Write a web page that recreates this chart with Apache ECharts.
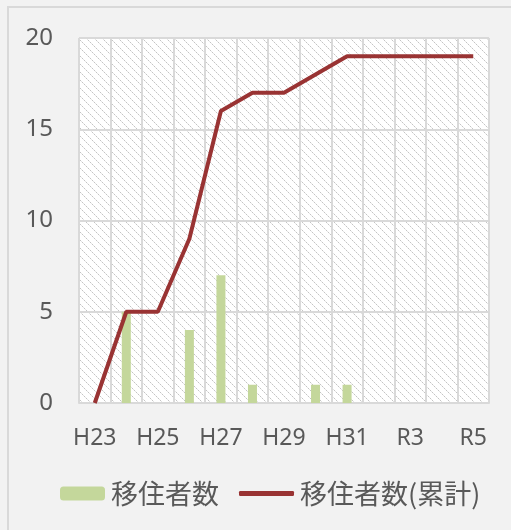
<!DOCTYPE html>
<html>
<head>
<meta charset="utf-8">
<script src="https://cdn.jsdelivr.net/npm/echarts@6/dist/echarts.min.js"></script>
<style>
  html, body { margin: 0; padding: 0; background: #f2f2f2; }
  #chart { width: 511px; height: 530px; }
</style>
</head>
<body>
<div id="chart"></div>
<script>
// 年度
const years = ['H23', 'H24', 'H25', 'H26', 'H27', 'H28', 'H29', 'H30', 'H31', 'R2', 'R3', 'R4', 'R5']
// 移住者数
const movers = [0, 5, 0, 4, 7, 1, 0, 1, 1, 0, 0, 0, 0]
// 移住者数(累計)
const moversTotal = [0, 5, 5, 9, 16, 17, 17, 18, 19, 19, 19, 19, 19]

// 斜線の背景パターン（点線）
const makeHatch = () => {
  const c = document.createElement('canvas')
  c.width = 8
  c.height = 8
  const ctx = c.getContext('2d')
  ctx.fillStyle = '#ffffff'
  ctx.fillRect(0, 0, 8, 8)
  ctx.fillStyle = '#c4c4c4'
  for (let i = 0; i < 8; i += 2) {
    ctx.fillRect(i, i, 1, 1)
  }
  ctx.fillStyle = '#e4e4e4'
  for (let i = 1; i < 8; i += 2) {
    ctx.fillRect(i, i, 1, 1)
  }
  return c
}

const chart = echarts.init(document.getElementById('chart'))

const axisFont = 'Noto Sans, sans-serif'
const cjkFont = 'Noto Sans CJK JP, sans-serif'

const option = {
  backgroundColor: '#f2f2f2',
  animation: false,
  graphic: [{
    type: 'rect',
    silent: true,
    z: -10,
    shape: { x: 8, y: 7, width: 600, height: 600 },
    style: { fill: 'none', stroke: '#d9d9d9', lineWidth: 2 }
  }],
  grid: {
    left: 79,
    right: 22,
    top: 38,
    bottom: 127,
    show: true,
    borderWidth: 0,
    backgroundColor: { image: makeHatch(), repeat: 'repeat' }
  },
  legend: [
    {
      data: ['移住者数'],
      left: 60,
      top: 480,
      padding: 0,
      itemWidth: 45,
      itemHeight: 14,
      textStyle: { fontFamily: cjkFont, fontSize: 27, color: '#595959', padding: [0, 0, 0, 1] }
    },
    {
      data: [{ name: '移住者数(累計)', icon: 'roundRect' }],
      left: 239,
      top: 480,
      padding: 0,
      itemWidth: 55,
      itemHeight: 5,
      textStyle: { fontFamily: cjkFont, fontSize: 27, color: '#595959', padding: [0, 0, 0, 1] }
    }
  ],
  xAxis: {
    type: 'category',
    data: years,
    boundaryGap: true,
    axisLine: { lineStyle: { color: '#d9d9d9', width: 2 } },
    axisTick: { interval: 0, length: 9, lineStyle: { color: '#d9d9d9', width: 2 } },
    axisLabel: { interval: 1, margin: 24, fontFamily: axisFont, fontSize: 23, color: '#595959' },
    splitLine: { show: true, interval: 0, lineStyle: { color: '#d9d9d9', width: 2 } }
  },
  yAxis: {
    type: 'value',
    min: 0,
    max: 20,
    interval: 5,
    axisLine: { show: false },
    axisTick: { show: false },
    axisLabel: { margin: 26, fontFamily: axisFont, fontSize: 24, color: '#595959' },
    splitLine: { lineStyle: { color: '#d9d9d9', width: 2 } }
  },
  series: [
    {
      name: '移住者数',
      type: 'bar',
      data: movers,
      barWidth: 9,
      itemStyle: { color: '#c4d79b' }
    },
    {
      name: '移住者数(累計)',
      type: 'line',
      data: moversTotal,
      symbol: 'none',
      lineStyle: { color: '#993333', width: 4 },
      itemStyle: { color: '#993333' }
    }
  ]
}

chart.setOption(option)
</script>
</body>
</html>
